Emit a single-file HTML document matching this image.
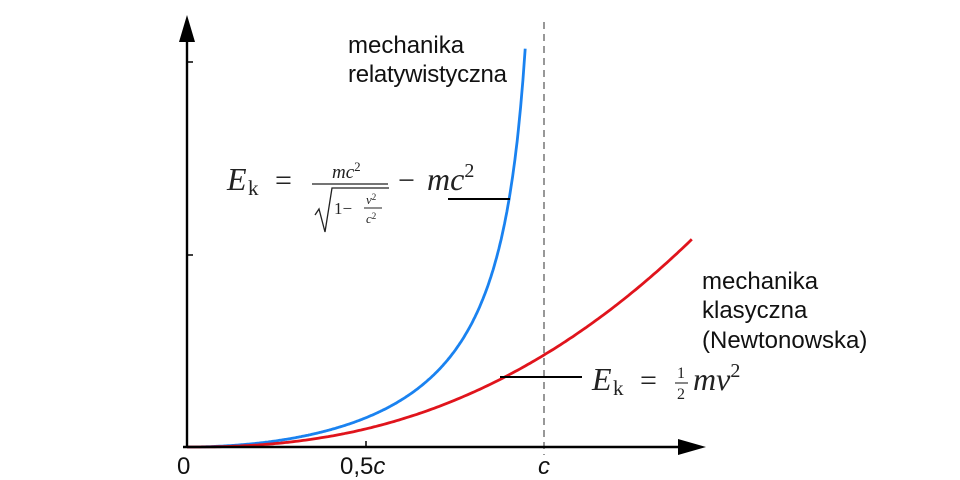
<!DOCTYPE html>
<html><head><meta charset="utf-8"><style>
html,body{margin:0;padding:0;background:#fff;width:960px;height:480px;overflow:hidden}
svg{display:block}
.s{font-family:"Liberation Sans","DejaVu Sans",sans-serif;font-size:24px;fill:#111}
.m{font-family:"Liberation Serif","DejaVu Serif",serif;fill:#222}
</style></head><body>
<svg id="g" width="960" height="480" viewBox="0 0 960 480">
<line x1="544" y1="22" x2="544" y2="455" stroke="#777" stroke-width="1.5" stroke-dasharray="7,5"/>
<path id="blue" fill="none" stroke="#1a82f0" stroke-width="2.8"/>
<path id="red" fill="none" stroke="#e0141c" stroke-width="2.8"/>
<line x1="187" y1="448" x2="187" y2="38" stroke="#000" stroke-width="2.4"/>
<polygon points="187,15 179,42 195,42" fill="#000"/>
<line x1="183" y1="447" x2="680" y2="447" stroke="#000" stroke-width="2.4"/>
<polygon points="706,447 678,439 678,455" fill="#000"/>
<line x1="187" y1="62" x2="193" y2="62" stroke="#000" stroke-width="1.5"/>
<line x1="187" y1="255" x2="193" y2="255" stroke="#000" stroke-width="1.5"/>
<line x1="366" y1="441" x2="366" y2="447" stroke="#000" stroke-width="1.5"/>
<text class="s" x="177" y="474">0</text>
<text class="s" x="340" y="474">0,5<tspan font-style="italic">c</tspan></text>
<text class="s" x="538" y="474" font-style="italic">c</text>
<text class="s" x="348" y="53">mechanika</text>
<text class="s" x="348" y="82" textLength="159">relatywistyczna</text>
<text class="s" x="702" y="289">mechanika</text>
<text class="s" x="702" y="318">klasyczna</text>
<text class="s" x="702" y="348">(Newtonowska)</text>
<line x1="448" y1="199" x2="510" y2="199" stroke="#000" stroke-width="2"/>
<line x1="500" y1="377" x2="582" y2="377" stroke="#000" stroke-width="2"/>
<g class="m">
<text x="227" y="190" font-size="32" font-style="italic">E</text>
<text x="248" y="195" font-size="21">k</text>
<text x="275" y="190" font-size="30">=</text>
<text x="332" y="178" font-size="19" font-style="italic">mc<tspan font-size="13" dy="-7" font-style="normal">2</tspan></text>
<line x1="312" y1="184" x2="388" y2="184" stroke="#222" stroke-width="1.3"/>
<path d="M315,215 L319,209 L325,232 L332,188 L389,188" fill="none" stroke="#222" stroke-width="1.3"/>
<text x="334" y="214" font-size="17">1−</text>
<text x="366" y="204" font-size="13" font-style="italic">v<tspan font-size="9" dy="-4" font-style="normal">2</tspan></text>
<line x1="364" y1="208" x2="382" y2="208" stroke="#222" stroke-width="0.9"/>
<text x="366" y="223" font-size="13" font-style="italic">c<tspan font-size="9" dy="-4" font-style="normal">2</tspan></text>
<text x="398" y="190" font-size="30">−</text>
<text x="427" y="190" font-size="32" font-style="italic">mc<tspan font-size="20" dy="-13" font-style="normal">2</tspan></text>
<text x="592" y="390" font-size="32" font-style="italic">E</text>
<text x="613" y="395" font-size="21">k</text>
<text x="640" y="390" font-size="30">=</text>
<text x="677" y="378" font-size="16">1</text>
<line x1="675" y1="383" x2="688" y2="383" stroke="#222" stroke-width="1.1"/>
<text x="677" y="399" font-size="16">2</text>
<text x="693" y="390" font-size="32" font-style="italic">mv<tspan font-size="20" dy="-13" font-style="normal">2</tspan></text>
</g>
</svg>
<script>
var b="",r="";
for(var i=0;i<=300;i++){var be=0.96*i/300;var x=187+357*be;var g=1/Math.sqrt(1-be*be)-1;var y=447-188*g;if(y<36)break;b+=(i?"L":"M")+x.toFixed(1)+","+y.toFixed(1);}
for(var i=0;i<=200;i++){var be=1.414*i/200;var x=187+357*be;var y=447-92*Math.pow(be,2.35);r+=(i?"L":"M")+x.toFixed(1)+","+y.toFixed(1);}
document.getElementById("blue").setAttribute("d",b);
document.getElementById("red").setAttribute("d",r);
</script>
</body></html>
